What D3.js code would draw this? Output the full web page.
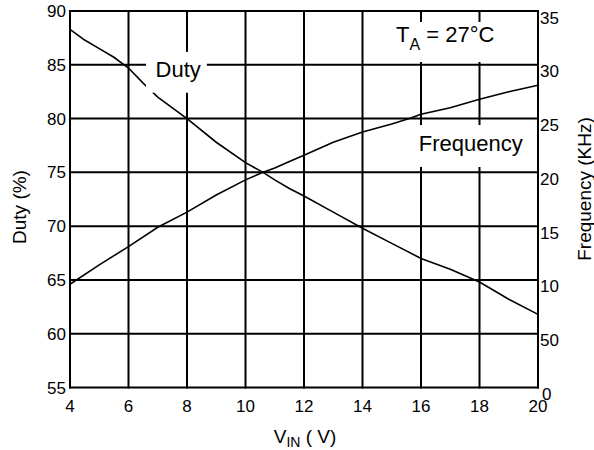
<!DOCTYPE html>
<html>
<head>
<meta charset="utf-8">
<script src="https://cdn.jsdelivr.net/npm/d3@7"></script>
<style>
  body { margin: 0; background: #fff; }
  text { font-family: "Liberation Sans", Arial, sans-serif; fill: #000; }
</style>
</head>
<body>
<div id="chart"></div>
<script>
// input voltage ticks and tick labels
var vinTicks = [4, 6, 8, 10, 12, 14, 16, 18, 20];
var dutyTicks = [55, 60, 65, 70, 75, 80, 85, 90];
var freqTicks = [0, 5, 10, 15, 20, 25, 30, 35];
var freqTickLabels = ["0", "50", "10", "15", "20", "25", "30", "35"];

// duty cycle (%) vs VIN
var dutyVin = [4, 4.5, 5, 5.5, 6, 6.5, 7, 7.5, 8, 9, 10, 10.6, 11, 11.5, 12, 13, 14, 15, 16, 17, 18, 19, 20];
var dutyVal = [88.3, 87.3, 86.5, 85.7, 84.7, 83.3, 82.0, 81.0, 80.0, 77.8, 75.9, 75.0, 74.3, 73.5, 72.8, 71.3, 69.8, 68.4, 67.0, 66.0, 64.8, 63.2, 61.8];

// frequency (KHz) vs VIN
var freqVin = [4, 5, 6, 7, 8, 9, 10, 10.6, 11, 11.5, 12, 13, 14, 15, 15.6, 16, 17, 18, 19, 20];
var freqVal = [9.6, 11.4, 13.1, 14.9, 16.3, 17.9, 19.3, 20.0, 20.4, 21.0, 21.6, 22.8, 23.75, 24.5, 25.0, 25.4, 26.0, 26.8, 27.5, 28.1];

var width = 594, height = 450;
var margin = {top: 11, right: 56, bottom: 62.5, left: 70};

var svg = d3.select("#chart").append("svg")
    .attr("width", width)
    .attr("height", height);

var x = d3.scaleLinear().domain([4, 20]).range([margin.left, width - margin.right]);
var yL = d3.scaleLinear().domain([55, 90]).range([height - margin.bottom, margin.top]);
var yR = d3.scaleLinear().domain([0, 35]).range([height - margin.bottom, margin.top]);

// grid
var grid = svg.append("g").attr("stroke", "#000").attr("stroke-width", 2);
grid.selectAll(".vgrid").data(vinTicks).enter().append("line")
    .attr("x1", function (d) { return x(d); })
    .attr("x2", function (d) { return x(d); })
    .attr("y1", yL(55) + 1).attr("y2", yL(90) - 1);
grid.selectAll(".hgrid").data(dutyTicks).enter().append("line")
    .attr("x1", x(4) - 1).attr("x2", x(20) + 1)
    .attr("y1", function (d) { return yL(d); })
    .attr("y2", function (d) { return yL(d); });

// curves
var dutyLine = d3.line()
    .x(function (d) { return x(d[0]); })
    .y(function (d) { return yL(d[1]); });
var freqLine = d3.line()
    .x(function (d) { return x(d[0]); })
    .y(function (d) { return yR(d[1]); });

svg.append("path")
    .attr("d", dutyLine(d3.zip(dutyVin, dutyVal)))
    .attr("fill", "none").attr("stroke", "#000").attr("stroke-width", 1.6);
svg.append("path")
    .attr("d", freqLine(d3.zip(freqVin, freqVal)))
    .attr("fill", "none").attr("stroke", "#000").attr("stroke-width", 1.6);

// label boxes (white backgrounds cut the grid), given in VIN / duty units
function box(v0, v1, dLow, dHigh) {
    svg.append("rect")
        .attr("x", x(v0)).attr("width", x(v1) - x(v0))
        .attr("y", yL(dHigh)).attr("height", yL(dLow) - yL(dHigh))
        .attr("fill", "#fff");
}
box(6.6, 8.68, 82.4, 86.2);   // Duty
box(14.87, 19.86, 85.26, 88.98);  // TA
box(15.62, 19.73, 75.5, 79.4);   // Frequency

svg.append("text")
    .attr("x", x(7.7)).attr("y", 76.5)
    .attr("text-anchor", "middle")
    .style("font-size", "22px")
    .text("Duty");

svg.append("text")
    .attr("x", x(17.7)).attr("y", 151)
    .attr("text-anchor", "middle")
    .style("font-size", "22px")
    .text("Frequency");

var ta = svg.append("text")
    .attr("x", 396).attr("y", 41.5)
    .style("font-size", "22px");
ta.append("tspan").text("T");
ta.append("tspan").attr("dy", 8).style("font-size", "16px").text("A");
ta.append("tspan").attr("dy", -8).text(" = 27\u00B0C");

// tick labels
svg.selectAll(".xlab").data(vinTicks).enter().append("text")
    .attr("x", function (d) { return x(d); })
    .attr("y", 412)
    .attr("text-anchor", "middle")
    .style("font-size", "17px")
    .text(function (d) { return d; });

svg.selectAll(".ylab").data(dutyTicks).enter().append("text")
    .attr("x", x(4) - 4)
    .attr("y", function (d) { return yL(d); })
    .attr("dy", "0.36em")
    .attr("text-anchor", "end")
    .style("font-size", "17px")
    .text(function (d) { return d; });

svg.selectAll(".rlab").data(freqTicks).enter().append("text")
    .attr("x", function (d) { return d === 0 ? x(20) + 4 : x(20) + 2; })
    .attr("y", function (d) { return yR(d) + 12.5; })
    .style("font-size", "17px")
    .text(function (d, i) { return freqTickLabels[i]; });

// axis titles
var xt = svg.append("text")
    .attr("x", 305).attr("y", 443)
    .attr("text-anchor", "middle")
    .style("font-size", "19px");
xt.append("tspan").text("V");
xt.append("tspan").attr("dy", 4).style("font-size", "14px").text("IN");
xt.append("tspan").attr("dy", -4).text(" ( V)");

svg.append("text")
    .attr("transform", "translate(26," + 207 + ") rotate(-90)")
    .attr("text-anchor", "middle")
    .style("font-size", "19px")
    .text("Duty (%)");

svg.append("text")
    .attr("transform", "translate(591," + 189 + ") rotate(-90)")
    .attr("text-anchor", "middle")
    .style("font-size", "19px")
    .text("Frequency (KHz)");
</script>
</body>
</html>
